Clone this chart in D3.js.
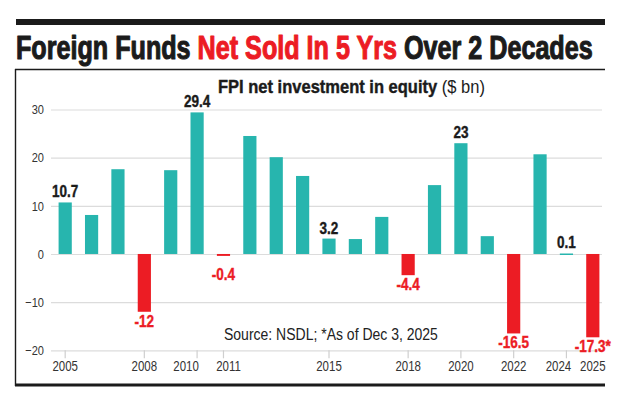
<!DOCTYPE html>
<html>
<head>
<meta charset="utf-8">
<script src="https://cdn.jsdelivr.net/npm/d3@7"></script>
<style>
  body { margin: 0; background: #fff; }
  svg text { font-family: "Liberation Sans", Arial, sans-serif; }
</style>
</head>
<body>
<div id="chart"></div>
<script>
// FPI net investment in equity ($ bn)
const years = d3.range(2005, 2026);
const values = [10.7, 8.1, 17.6, -12, 17.4, 29.4, -0.4, 24.5, 20.1, 16.2,
                3.2, 3.1, 7.7, -4.4, 14.3, 23, 3.7, -16.5, 20.7, 0.1, -17.3];
const tickYears = [2005, 2008, 2010, 2011, 2015, 2018, 2020, 2022, 2024, 2025];
const yTicks = [-20, -10, 0, 10, 20, 30];
const footnoteYear = 2025;

const width = 618, height = 395;
const teal = "#27b5ae", red = "#ec1c24", ink = "#1b1b1b";
const narrowK = 0.82;   // squeeze Liberation Sans down to a narrow face

let data = years.map((y, i) => ({year: y, value: values[i]}));

// horizontally squeeze a text around its anchor x
function squeeze(sel, k) {
    sel.each(function () {
        let t = d3.select(this);
        let ax = +t.attr("x") || 0;
        t.attr("transform", `translate(${ax},0) scale(${k},1) translate(${-ax},0)`);
    });
}

let svg = d3.select("#chart").append("svg")
    .attr("width", width)
    .attr("height", height);

// top rule
svg.append("rect")
    .attr("x", 16).attr("y", 19)
    .attr("width", 589).attr("height", 6)
    .attr("fill", ink);

// title, stretched to fit the column (stroke thickens it to a heavy face)
let title = svg.append("text")
    .attr("x", 16)
    .attr("y", 59)
    .style("font-size", "33px")
    .style("font-weight", "bold")
    .attr("fill", ink)
    .attr("stroke", ink)
    .attr("stroke-width", 1.1)
    .attr("stroke-linejoin", "round");
title.append("tspan").text("Foreign Funds ");
title.append("tspan").attr("fill", red).attr("stroke", red).text("Net Sold In 5 Yrs");
title.append("tspan").text(" Over 2 Decades");
squeeze(title, 577 / title.node().getComputedTextLength());

// frame
svg.append("line")
    .attr("x1", 15).attr("x2", 605).attr("y1", 69.5).attr("y2", 69.5)
    .attr("stroke", ink).attr("stroke-width", 1.4);
svg.append("line")
    .attr("x1", 15.5).attr("x2", 15.5).attr("y1", 69).attr("y2", 386)
    .attr("stroke", ink).attr("stroke-width", 1.4);
svg.append("line")
    .attr("x1", 15).attr("x2", 605).attr("y1", 385).attr("y2", 385)
    .attr("stroke", ink).attr("stroke-width", 3);

// subtitle
let sub = svg.append("text")
    .attr("x", 218).attr("y", 93)
    .style("font-size", "18px")
    .attr("fill", ink);
sub.append("tspan").style("font-weight", "bold")
    .attr("stroke", ink).attr("stroke-width", 0.4)
    .text("FPI net investment in equity ");
sub.append("tspan").style("font-weight", "normal").text("($ bn)");
squeeze(sub, 267 / sub.node().getComputedTextLength());

// scales
let x = d3.scaleBand()
    .domain(years)
    .range([52, 606])
    .paddingInner(0.5)
    .paddingOuter(0.25);

let y = d3.scaleLinear()
    .domain([-20, 30])
    .range([350.3, 109.5]);

// gridlines + y labels
let yAxis = d3.axisLeft(y)
    .tickValues(yTicks)
    .tickSize(-551)
    .tickPadding(7);

let gy = svg.append("g")
    .attr("transform", "translate(51,0)")
    .call(yAxis);
gy.select(".domain").remove();
gy.selectAll(".tick line").attr("stroke", "#dcdcdc").attr("stroke-width", 1.2);
gy.selectAll(".tick text")
    .attr("fill", "#333")
    .style("font-size", "13.5px")
    .style("font-family", "Liberation Sans, Arial, sans-serif")
    .call(squeeze, narrowK);

// x ticks and labels
let labelNudge = {2010: -11, 2011: 5, 2024: -8};
let gx = svg.append("g")
    .attr("transform", `translate(0,${y(-20)})`);
gx.selectAll("line")
    .data(tickYears.filter(d => d !== footnoteYear))
    .enter()
    .append("line")
    .attr("x1", d => x(d) + x.bandwidth() / 2)
    .attr("x2", d => x(d) + x.bandwidth() / 2)
    .attr("y1", 0).attr("y2", 8)
    .attr("stroke", "#cfcfcf").attr("stroke-width", 1.2);
gx.selectAll("text")
    .data(tickYears)
    .enter()
    .append("text")
    .attr("x", d => x(d) + x.bandwidth() / 2 + (labelNudge[d] || 0))
    .attr("y", 20.5)
    .attr("text-anchor", "middle")
    .attr("fill", "#333")
    .style("font-size", "14px")
    .text(d => d)
    .call(squeeze, narrowK);

// bars
svg.append("g")
    .selectAll("rect")
    .data(data)
    .enter()
    .append("rect")
    .attr("x", d => x(d.year))
    .attr("width", x.bandwidth())
    .attr("y", d => y(Math.max(0, d.value)))
    .attr("height", d => Math.max(1.5, Math.abs(y(d.value) - y(0))))
    .attr("fill", d => d.value < 0 ? red : teal);

// source note
let src = svg.append("text")
    .attr("x", 224).attr("y", 340)
    .attr("fill", "#222")
    .style("font-size", "17px")
    .text("Source: NSDL; *As of Dec 3, 2025");
squeeze(src, 214 / src.node().getComputedTextLength());

// value labels on the labelled years
svg.append("g")
    .selectAll("text")
    .data(data.filter(d => tickYears.includes(d.year)))
    .enter()
    .append("text")
    .attr("x", d => x(d.year) + x.bandwidth() / 2)
    .attr("y", d => d.value < 0
        ? Math.max(y(d.value) + 15, y(0) + 26)
        : y(d.value) - 5)
    .attr("text-anchor", "middle")
    .attr("fill", d => d.value < 0 ? red : ink)
    .attr("stroke", d => d.value < 0 ? red : ink)
    .attr("stroke-width", 0.4)
    .style("font-size", "16.5px")
    .style("font-weight", "bold")
    .text(d => d.value + (d.year === footnoteYear ? "*" : ""))
    .call(squeeze, narrowK);
</script>
</body>
</html>
